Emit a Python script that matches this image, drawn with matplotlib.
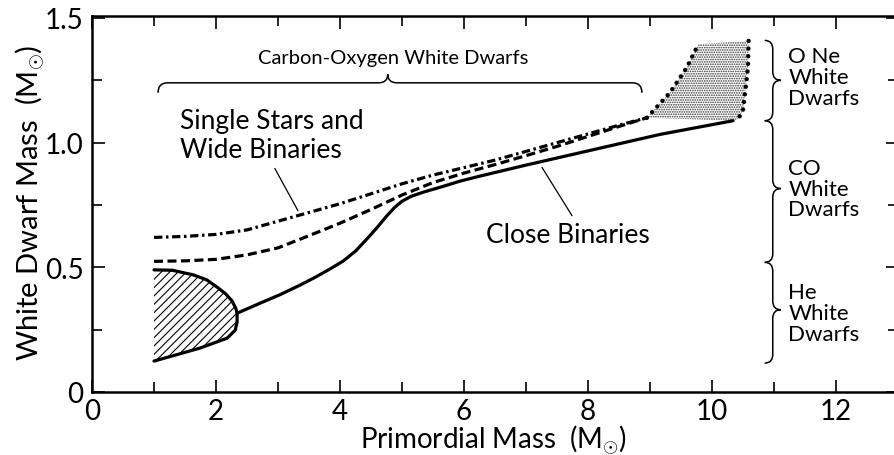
import matplotlib
matplotlib.use("Agg")
import matplotlib.pyplot as plt
from matplotlib.path import Path
from matplotlib.patches import PathPatch

plt.rcParams['font.family'] = ['Lato', 'DejaVu Sans']
plt.rcParams['mathtext.fontset'] = 'custom'
plt.rcParams['mathtext.rm'] = 'Lato'
plt.rcParams['lines.scale_dashes'] = False
plt.rcParams['hatch.linewidth'] = 0.8

# --- curves: primordial mass (Msun) -> white dwarf mass (Msun) ---
single_x = [1.0, 1.5, 2.0, 2.5, 3.0, 3.5, 4.0, 4.5, 5.0, 5.5, 6.0, 6.5,
            7.0, 7.5, 8.0, 8.5, 8.95]
single_y = [0.62, 0.624, 0.632, 0.65, 0.685, 0.72, 0.755, 0.795, 0.835,
            0.87, 0.9, 0.93, 0.965, 1.0, 1.035, 1.07, 1.10]

wide_x = [1.0, 1.5, 2.0, 2.5, 3.0, 3.5, 4.0, 4.5, 5.0, 5.5, 6.0, 6.5,
          7.0, 7.5, 8.0, 8.5, 8.95]
wide_y = [0.524, 0.526, 0.532, 0.55, 0.578, 0.627, 0.677, 0.732, 0.79,
          0.84, 0.878, 0.912, 0.948, 0.985, 1.025, 1.065, 1.10]

close_x = [2.34, 2.7, 3.03, 3.35, 3.6, 3.85, 4.05, 4.25, 4.45, 4.6, 4.75,
           4.88, 5.0, 5.15, 5.35, 5.6, 5.94, 6.26, 7.0, 8.0, 9.16, 10.34]
close_y = [0.316, 0.355, 0.39, 0.428, 0.46, 0.495, 0.525, 0.565, 0.618,
           0.66, 0.705, 0.74, 0.765, 0.785, 0.802, 0.82, 0.846, 0.866,
           0.91, 0.967, 1.033, 1.088]

# helium white dwarf region from close binaries (outline without left edge)
he_x = [1.0, 1.3, 1.63, 1.85, 2.02, 2.15, 2.26, 2.32, 2.34, 2.34, 2.31,
        2.18, 1.74, 1.4, 1.0]
he_y = [0.49, 0.488, 0.47, 0.45, 0.42, 0.395, 0.365, 0.335, 0.316, 0.28,
        0.248, 0.216, 0.176, 0.152, 0.124]

# oxygen-neon white dwarf region
one_left_x = [8.95, 9.32, 9.59, 9.78]
one_left_y = [1.10, 1.20, 1.30, 1.395]
one_right_x = [10.59, 10.58, 10.5, 10.42]
one_right_y = [1.408, 1.30, 1.128, 1.095]
one_top_x = [9.78, 10.59]
one_top_y = [1.395, 1.408]
one_bottom_x = [10.34, 8.95]
one_bottom_y = [1.088, 1.10]

x_ticks = [0, 2, 4, 6, 8, 10, 12]
y_ticks = [0, 0.5, 1.0, 1.5]
y_ticklabels = ["0", "0.5", "1.0", "1.5"]

fig = plt.figure(figsize=(8.95, 4.56), dpi=100)
ax = fig.add_axes([92 / 895, 1 - 393 / 456, 806 / 895, 376 / 456])
ax.set_xlim(0, 13)
ax.set_ylim(0, 1.508)

# ---------- regions ----------
ax.fill(he_x, he_y, facecolor='none', edgecolor='black', hatch='////', lw=0)
ax.plot(he_x[1:], he_y[1:], color='black', lw=2.3, solid_capstyle='round')
ax.plot(he_x[:2], he_y[:2], color='black', lw=2.3, solid_capstyle='round')

poly_x = one_left_x + one_top_x[1:] + one_right_x[1:] + one_bottom_x
poly_y = one_left_y + one_top_y[1:] + one_right_y[1:] + one_bottom_y
ax.fill(poly_x, poly_y, facecolor='none', edgecolor='0.2', hatch='.......', lw=0)
dot_style = dict(color='black', lw=3.2, linestyle=(0, (0.01, 5.5)),
                 dash_capstyle='round')
ax.plot(one_left_x, one_left_y, **dot_style)
ax.plot(one_right_x, one_right_y, **dot_style)

# ---------- initial-final mass relations ----------
ax.plot(single_x, single_y, color='black', lw=2.3,
        linestyle=(0, (6, 2.6, 1.8, 2.6)))
ax.plot(wide_x, wide_y, color='black', lw=2.3, linestyle=(0, (6.5, 3.2)))
ax.plot(close_x, close_y, color='black', lw=2.3, solid_capstyle='round')

# ---------- labels on the curves ----------
ax.text(1.42, 1.03, "Single Stars and\nWide Binaries", fontsize=19,
        ha='left', va='center', linespacing=1.2)
ax.plot([2.95, 3.32], [0.896, 0.728], color='black', lw=0.9)
ax.text(7.68, 0.632, "Close Binaries", fontsize=19, ha='center', va='center')
ax.plot([7.26, 7.74], [0.90, 0.708], color='black', lw=0.9)
ax.text(4.85, 1.341, "Carbon-Oxygen White Dwarfs", fontsize=14.5,
        ha='center', va='center')


def brace(u0, u1, um, v0, dv_end, dv_tip, ru, vertical=False):
    pts = [(u0, v0 - dv_end),
           (u0, v0), (u0 + ru, v0),
           (um - ru, v0),
           (um, v0), (um, v0 + dv_tip),
           (um, v0), (um + ru, v0),
           (u1 - ru, v0),
           (u1, v0), (u1, v0 - dv_end)]
    codes = [Path.MOVETO, Path.CURVE3, Path.CURVE3, Path.LINETO,
             Path.CURVE3, Path.CURVE3, Path.CURVE3, Path.CURVE3,
             Path.LINETO, Path.CURVE3, Path.CURVE3]
    if vertical:
        pts = [(v, u) for u, v in pts]
    ax.add_patch(PathPatch(Path(pts, codes), fill=False, lw=1.1,
                           edgecolor='black', clip_on=False))


# horizontal brace over the CO range
brace(1.065, 8.87, 4.77, 1.24, 0.04, 0.034, 0.15)

# vertical braces on the right: (top, bottom, tip)
brace_top = [1.41, 1.088, 0.52]
brace_bottom = [1.088, 0.52, 0.116]
brace_tip = [1.25, 0.816, 0.33]
for top, bot, tip in zip(brace_top, brace_bottom, brace_tip):
    brace(bot, top, tip, 10.98, 0.13, 0.13, 0.035, vertical=True)

class_labels = ["O Ne\nWhite\nDwarfs", "CO\nWhite\nDwarfs", "He\nWhite\nDwarfs"]
class_y = [1.264, 0.816, 0.316]
for lab, yy in zip(class_labels, class_y):
    ax.text(11.23, yy, lab, fontsize=16, ha='left', va='center',
            linespacing=1.05)

# ---------- axes styling ----------
for s in ax.spines.values():
    s.set_linewidth(1.8)
ax.set_xticks(x_ticks)
ax.set_xticks([1, 3, 5, 7, 9, 11], minor=True)
ax.set_yticks(y_ticks)
ax.set_yticklabels(y_ticklabels)
ax.set_yticks([0.25, 0.75, 1.25], minor=True)
ax.tick_params(which='both', direction='in', top=True, right=True, width=1.2)
ax.tick_params(which='major', length=9, labelsize=20)
ax.tick_params(axis='x', which='major', pad=4)
ax.tick_params(axis='y', which='major', pad=6)
ax.tick_params(which='minor', length=7)

fig.text(30 / 895, 1 - 203 / 456, r"White Dwarf Mass  ($\mathrm{M}_{\odot}$)",
         rotation=90, fontsize=21, ha='center', va='center')
fig.text(494 / 895, 1 - 440 / 456, r"Primordial Mass  ($\mathrm{M}_{\odot}$)",
         fontsize=20, ha='center', va='center')

fig.savefig("out.png", dpi=100)
